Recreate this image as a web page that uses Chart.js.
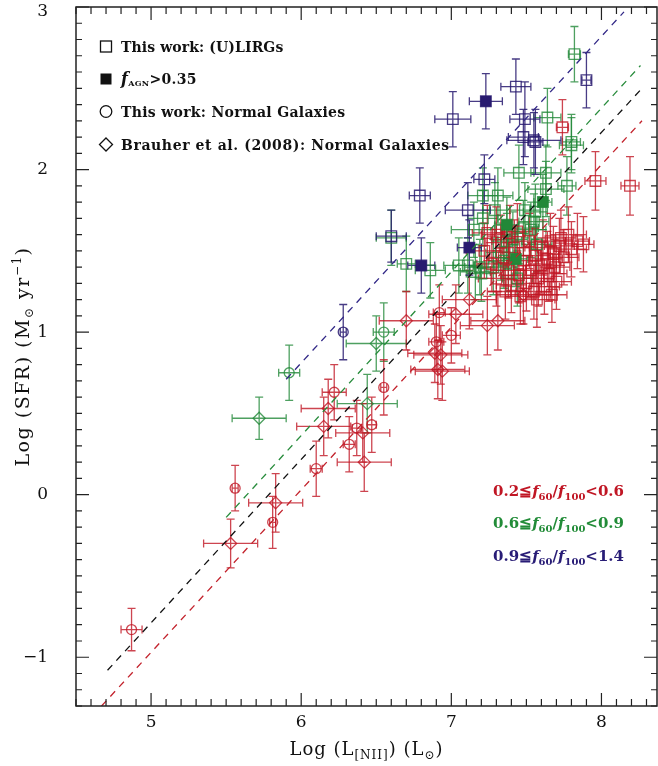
<!DOCTYPE html>
<html>
<head>
<meta charset="utf-8">
<script src="https://cdn.jsdelivr.net/npm/chart.js@4.4.1/dist/chart.umd.min.js"></script>
<style>
  html, body { margin: 0; padding: 0; background: #fff; }
  canvas { display: block; }
</style>
</head>
<body>
<canvas id="chart" width="658" height="766"></canvas>
<script>
// axis tick labels
const xTickLabels = [5, 6, 7, 8];
const yTickLabels = [-1, 0, 1, 2, 3];

// each point: [log L_NII, log SFR, x error, y error]
// (U)LIRGs, open squares
const redSquares = [
  [7.74, 2.26, 0.04, 0.17], [7.96, 1.93, 0.07, 0.18], [8.19, 1.90, 0.06, 0.18],
  [7.88, 1.54, 0.07, 0.17], [7.24, 1.61, 0.10, 0.17], [7.30, 1.60, 0.10, 0.17],
  [7.39, 1.61, 0.10, 0.17], [7.22, 1.50, 0.12, 0.17], [7.27, 1.42, 0.10, 0.17],
  [7.30, 1.33, 0.12, 0.17], [7.33, 1.55, 0.10, 0.17], [7.35, 1.46, 0.10, 0.17],
  [7.38, 1.38, 0.12, 0.17], [7.40, 1.29, 0.10, 0.17], [7.42, 1.52, 0.10, 0.17],
  [7.45, 1.35, 0.12, 0.17], [7.46, 1.22, 0.10, 0.17], [7.48, 1.44, 0.10, 0.17],
  [7.50, 1.30, 0.10, 0.17], [7.52, 1.56, 0.12, 0.17], [7.53, 1.38, 0.10, 0.17],
  [7.55, 1.25, 0.12, 0.17], [7.56, 1.47, 0.10, 0.17], [7.58, 1.33, 0.10, 0.17],
  [7.60, 1.41, 0.10, 0.17], [7.61, 1.52, 0.12, 0.17], [7.62, 1.28, 0.10, 0.17],
  [7.64, 1.45, 0.10, 0.17], [7.65, 1.36, 0.12, 0.17], [7.66, 1.56, 0.10, 0.17],
  [7.68, 1.48, 0.10, 0.17], [7.69, 1.40, 0.10, 0.17], [7.70, 1.31, 0.10, 0.17],
  [7.72, 1.53, 0.10, 0.17], [7.73, 1.58, 0.10, 0.17], [7.75, 1.46, 0.10, 0.17],
  [7.78, 1.60, 0.12, 0.17], [7.80, 1.51, 0.10, 0.17], [7.84, 1.56, 0.08, 0.17],
  [7.44, 1.62, 0.10, 0.17], [7.36, 1.25, 0.12, 0.17], [7.57, 1.20, 0.12, 0.17],
  [7.67, 1.23, 0.10, 0.17]
];
const greenSquares = [
  [7.82, 2.71, 0.04, 0.17], [7.64, 2.32, 0.09, 0.18], [7.80, 2.17, 0.06, 0.17],
  [7.80, 2.15, 0.08, 0.17], [7.45, 1.98, 0.10, 0.17], [7.63, 1.98, 0.10, 0.17],
  [7.77, 1.90, 0.06, 0.18], [7.63, 1.88, 0.12, 0.17], [7.21, 1.84, 0.10, 0.17],
  [7.31, 1.84, 0.10, 0.17], [7.21, 1.70, 0.10, 0.17], [7.29, 1.75, 0.08, 0.17],
  [7.49, 1.75, 0.10, 0.17], [7.55, 1.68, 0.10, 0.17], [7.56, 1.74, 0.08, 0.17],
  [7.15, 1.63, 0.15, 0.17], [6.60, 1.58, 0.10, 0.17], [6.70, 1.42, 0.06, 0.17],
  [6.86, 1.38, 0.10, 0.17], [7.05, 1.41, 0.10, 0.17], [7.11, 1.41, 0.10, 0.17],
  [7.19, 1.40, 0.10, 0.17], [7.38, 1.42, 0.10, 0.17], [7.16, 1.37, 0.10, 0.17],
  [7.20, 1.36, 0.10, 0.17], [7.28, 1.40, 0.10, 0.17], [7.33, 1.49, 0.10, 0.17],
  [7.37, 1.56, 0.10, 0.17], [7.41, 1.57, 0.10, 0.17], [7.48, 1.64, 0.10, 0.17],
  [7.53, 1.63, 0.10, 0.17], [7.57, 1.54, 0.10, 0.17], [7.35, 1.44, 0.10, 0.17],
  [7.44, 1.33, 0.10, 0.17]
];
const blueSquares = [
  [7.01, 2.31, 0.12, 0.17], [7.43, 2.51, 0.10, 0.17], [7.90, 2.55, 0.03, 0.17],
  [7.49, 2.31, 0.10, 0.23], [7.48, 2.20, 0.10, 0.17], [7.55, 2.18, 0.18, 0.17],
  [7.56, 2.17, 0.05, 0.20], [7.22, 1.94, 0.07, 0.15], [6.79, 1.84, 0.07, 0.17],
  [7.11, 1.75, 0.15, 0.17], [6.60, 1.59, 0.10, 0.16]
];
// f_AGN > 0.35, filled squares
const greenFilled = [[7.61, 1.80, 0.06, 0.17], [7.37, 1.66, 0.08, 0.17], [7.43, 1.45, 0.08, 0.17]];
const blueFilled = [[7.23, 2.42, 0.11, 0.17], [6.80, 1.41, 0.09, 0.17], [7.12, 1.52, 0.08, 0.17]];
// normal galaxies (this work), circles
const redCircles = [
  [6.92, 1.12, 0.04, 0.17], [7.00, 0.98, 0.06, 0.17], [6.90, 0.94, 0.05, 0.17],
  [6.55, 0.66, 0.02, 0.17], [6.22, 0.63, 0.08, 0.17], [6.37, 0.41, 0.03, 0.17],
  [6.47, 0.43, 0.03, 0.17], [6.32, 0.31, 0.04, 0.17], [6.10, 0.16, 0.04, 0.17],
  [5.56, 0.04, 0.02, 0.14], [5.81, -0.17, 0.02, 0.16], [4.87, -0.83, 0.07, 0.13]
];
const greenCircles = [[6.55, 1.00, 0.07, 0.18], [5.92, 0.75, 0.07, 0.17]];
const blueCircles = [[6.28, 1.00, 0.02, 0.17]];
// Brauher et al. (2008), diamonds
const redDiamonds = [
  [6.70, 1.07, 0.18, 0.18], [7.03, 1.11, 0.18, 0.18], [7.12, 1.20, 0.18, 0.18],
  [7.24, 1.04, 0.18, 0.18], [7.31, 1.07, 0.18, 0.18], [7.48, 1.23, 0.18, 0.18],
  [6.89, 0.87, 0.18, 0.18], [6.93, 0.86, 0.18, 0.18], [6.91, 0.77, 0.18, 0.18],
  [6.94, 0.76, 0.18, 0.18], [6.18, 0.53, 0.18, 0.18], [6.15, 0.42, 0.18, 0.18],
  [6.41, 0.38, 0.18, 0.18], [6.42, 0.20, 0.18, 0.18], [5.83, -0.05, 0.18, 0.18],
  [5.53, -0.30, 0.18, 0.15]
];
const greenDiamonds = [[6.50, 0.93, 0.20, 0.17], [5.72, 0.47, 0.18, 0.13], [6.44, 0.56, 0.20, 0.18]];

// dashed relations, end points
const fitBlackX = [4.71, 8.28], fitBlackY = [-1.08, 2.51];
const fitRedX = [4.67, 8.27], fitRedY = [-1.30, 2.30];
const fitGreenX = [5.50, 8.26], fitGreenY = [-0.14, 2.64];
const fitBlueX = [5.90, 8.15], fitBlueY = [0.71, 2.97];

const RED = 'rgba(192,22,36,0.8)';
const GREEN = 'rgba(34,136,56,0.8)';
const BLUE = 'rgba(40,26,112,0.85)';
const SERIF = '"DejaVu Serif", "Liberation Serif", serif';

function pts(arr) { return arr.map(p => ({ x: p[0], y: p[1] })); }
function fitLine(xs, ys, color) {
  return { data: xs.map((x, i) => ({ x: x, y: ys[i] })), showLine: true, pointRadius: 0,
    borderColor: color, borderWidth: 1.3, borderDash: [7, 6], fill: false };
}
function markers(arr, color, style, radius, filled) {
  return { data: pts(arr), errs: arr.map(p => [p[2], p[3]]), pointStyle: style, pointRadius: radius,
    borderColor: color, backgroundColor: filled ? color.replace(/[\d.]+\)$/, '1)') : 'rgba(0,0,0,0)',
    borderWidth: 1.3, errColor: color };
}

// error bars behind the markers
const errorBars = {
  id: 'errorBars',
  beforeDatasetsDraw(chart) {
    const ctx = chart.ctx, xs = chart.scales.x, ys = chart.scales.y;
    const a = chart.chartArea;
    ctx.save();
    ctx.beginPath(); ctx.rect(a.left, a.top, a.right - a.left, a.bottom - a.top); ctx.clip();
    for (let d = chart.data.datasets.length - 1; d >= 0; d--) {
      const ds = chart.data.datasets[d];
      if (!ds.errs) continue;
      ctx.strokeStyle = ds.errColor;
      ctx.lineWidth = 1.3;
      ds.data.forEach((p, i) => {
        const [ex, ey] = ds.errs[i];
        const px = xs.getPixelForValue(p.x), py = ys.getPixelForValue(p.y);
        const x1 = xs.getPixelForValue(p.x - ex), x2 = xs.getPixelForValue(p.x + ex);
        const y1 = ys.getPixelForValue(p.y - ey), y2 = ys.getPixelForValue(p.y + ey);
        ctx.beginPath();
        ctx.moveTo(x1, py); ctx.lineTo(x2, py);
        ctx.moveTo(x1, py - 4); ctx.lineTo(x1, py + 4);
        ctx.moveTo(x2, py - 4); ctx.lineTo(x2, py + 4);
        ctx.moveTo(px, y1); ctx.lineTo(px, y2);
        ctx.moveTo(px - 4, y1); ctx.lineTo(px + 4, y1);
        ctx.moveTo(px - 4, y2); ctx.lineTo(px + 4, y2);
        ctx.stroke();
      });
    }
    ctx.restore();
  }
};

function rich(ctx, parts, x, y, align, spacing) {
  ctx.letterSpacing = (spacing || 0) + 'px';
  let w = 0;
  parts.forEach(p => { ctx.font = p.f; p.w = ctx.measureText(p.t).width; w += p.w; });
  let cx = align === 'center' ? x - w / 2 : (align === 'right' ? x - w : x);
  ctx.textAlign = 'left';
  ctx.textBaseline = 'alphabetic';
  parts.forEach(p => { ctx.font = p.f; ctx.fillText(p.t, cx, y + (p.dy || 0)); cx += p.w; });
  ctx.letterSpacing = '0px';
}

// frame, inward ticks, y labels, titles and legends
const decor = {
  id: 'decor',
  afterDraw(chart) {
    const ctx = chart.ctx, a = chart.chartArea, xs = chart.scales.x, ys = chart.scales.y;
    ctx.save();
    ctx.strokeStyle = '#222';
    ctx.lineWidth = 1.5;
    ctx.strokeRect(a.left, a.top, a.right - a.left, a.bottom - a.top);
    ctx.lineWidth = 1.2;
    ctx.beginPath();
    for (let i = Math.ceil(xs.min * 10); i <= Math.floor(xs.max * 10); i++) {
      const px = xs.getPixelForValue(i / 10), len = i % 10 === 0 ? 13 : 7;
      ctx.moveTo(px, a.bottom); ctx.lineTo(px, a.bottom - len);
      ctx.moveTo(px, a.top); ctx.lineTo(px, a.top + len);
    }
    for (let i = Math.ceil(ys.min * 10); i <= Math.floor(ys.max * 10); i++) {
      const py = ys.getPixelForValue(i / 10), len = i % 10 === 0 ? 13 : 6;
      ctx.moveTo(a.left, py); ctx.lineTo(a.left + len, py);
      ctx.moveTo(a.right, py); ctx.lineTo(a.right - len, py);
    }
    ctx.stroke();

    ctx.fillStyle = '#111';
    // y tick labels, the top one kept inside the canvas
    ctx.font = '17px ' + SERIF;
    ctx.textAlign = 'right';
    ctx.textBaseline = 'middle';
    yTickLabels.forEach(v => {
      const py = Math.max(ys.getPixelForValue(v), 12);
      ctx.fillText(v < 0 ? '\u2212' + Math.abs(v) : String(v), 48, py);
    });

    const big = '18px ' + SERIF, small = '12px ' + SERIF;
    rich(ctx, [
      { t: 'Log (L', f: big }, { t: '[NII]', f: small, dy: 4 },
      { t: ') (L', f: big }, { t: '\u2299', f: small, dy: 4 }, { t: ')', f: big }
    ], (a.left + a.right) / 2, 755, 'center', 1);
    ctx.save();
    ctx.translate(29, (a.top + a.bottom) / 2);
    ctx.rotate(-Math.PI / 2);
    rich(ctx, [
      { t: 'Log (SFR) (M', f: '19px ' + SERIF }, { t: '\u2299', f: small, dy: 4 },
      { t: ' yr', f: '19px ' + SERIF }, { t: '\u22121', f: small, dy: -8 }, { t: ')', f: '19px ' + SERIF }
    ], 0, 0, 'center', 1.5);
    ctx.restore();

    // symbol legend
    const lf = 'bold 14px ' + SERIF;
    const rows = [46.5, 79, 111.5, 144.5];
    ctx.strokeStyle = '#111';
    ctx.lineWidth = 1.3;
    ctx.strokeRect(100.5, rows[0] - 5.5, 11, 11);
    ctx.fillRect(100.5, rows[1] - 5.5, 11, 11);
    ctx.beginPath(); ctx.arc(106, rows[2], 5.8, 0, Math.PI * 2); ctx.stroke();
    ctx.beginPath();
    ctx.moveTo(106, rows[3] - 6.5); ctx.lineTo(112.5, rows[3]); ctx.lineTo(106, rows[3] + 6.5);
    ctx.lineTo(99.5, rows[3]); ctx.closePath(); ctx.stroke();
    rich(ctx, [{ t: 'This work: (U)LIRGs', f: lf }], 121, rows[0] + 5, 'left', 0.1);
    rich(ctx, [{ t: 'f', f: 'italic bold 16px ' + SERIF }, { t: 'AGN', f: 'bold 8px ' + SERIF, dy: 2 },
      { t: '>0.35', f: lf }], 121, rows[1] + 5, 'left', 0.3);
    rich(ctx, [{ t: 'This work: Normal Galaxies', f: lf }], 121, rows[2] + 5, 'left', 0.3);
    rich(ctx, [{ t: 'Brauher et al. (2008): Normal Galaxies', f: lf }], 121, rows[3] + 5, 'left', 0.6);

    // colour legend
    const cf = 'bold 15px ' + SERIF, cfi = 'italic bold 15px ' + SERIF, cs = 'bold 10px ' + SERIF;
    const bins = [['0.2', '0.6', 'rgb(192,22,36)', 496], ['0.6', '0.9', 'rgb(34,140,56)', 528],
      ['0.9', '1.4', 'rgb(40,28,118)', 561]];
    bins.forEach(b => {
      ctx.fillStyle = b[2];
      rich(ctx, [{ t: b[0] + '\u2266', f: cf }, { t: 'f', f: cfi }, { t: '60', f: cs, dy: 4 },
        { t: '/', f: cf }, { t: 'f', f: cfi }, { t: '100', f: cs, dy: 4 }, { t: '<' + b[1], f: cf }],
        624, b[3], 'right');
    });
    ctx.restore();
  }
};

const ctx = document.getElementById('chart').getContext('2d');
new Chart(ctx, {
  type: 'scatter',
  data: {
    datasets: [
      fitLine(fitBlueX, fitBlueY, 'rgb(50,40,135)'),
      fitLine(fitBlackX, fitBlackY, '#111'),
      fitLine(fitGreenX, fitGreenY, 'rgb(40,140,60)'),
      fitLine(fitRedX, fitRedY, 'rgb(195,35,45)'),
      markers(blueFilled, BLUE, 'rect', 7.5, true),
      markers(greenFilled, GREEN, 'rect', 7.5, true),
      markers(blueCircles, BLUE, 'circle', 5, false),
      markers(blueSquares, BLUE, 'rect', 7.5, false),
      markers(redDiamonds, RED, 'rectRot', 6, false),
      markers(redCircles, RED, 'circle', 5, false),
      markers(redSquares, RED, 'rect', 7.5, false),
      markers(greenDiamonds, GREEN, 'rectRot', 6, false),
      markers(greenCircles, GREEN, 'circle', 5, false),
      markers(greenSquares, GREEN, 'rect', 7.5, false)
    ]
  },
  options: {
    responsive: false,
    animation: false,
    layout: { autoPadding: false, padding: { top: 7, right: 1, left: 0, bottom: 0 } },
    plugins: { legend: { display: false }, tooltip: { enabled: false } },
    scales: {
      x: {
        type: 'linear', min: 4.5, max: 8.37,
        grid: { display: false, drawTicks: false }, border: { display: false },
        afterBuildTicks: s => { s.ticks = xTickLabels.map(v => ({ value: v })); },
        afterFit: s => { s.height = 60; s.paddingLeft = 0; s.paddingRight = 0; },
        ticks: { padding: 6, color: '#111', font: { family: SERIF, size: 17 } }
      },
      y: {
        type: 'linear', min: -1.3, max: 3,
        grid: { display: false, drawTicks: false }, border: { display: false },
        afterBuildTicks: s => { s.ticks = yTickLabels.map(v => ({ value: v })); },
        afterFit: s => { s.width = 76; s.paddingTop = 0; s.paddingBottom = 0; },
        ticks: { display: false }
      }
    }
  },
  plugins: [errorBars, decor]
});
</script>
</body>
</html>
